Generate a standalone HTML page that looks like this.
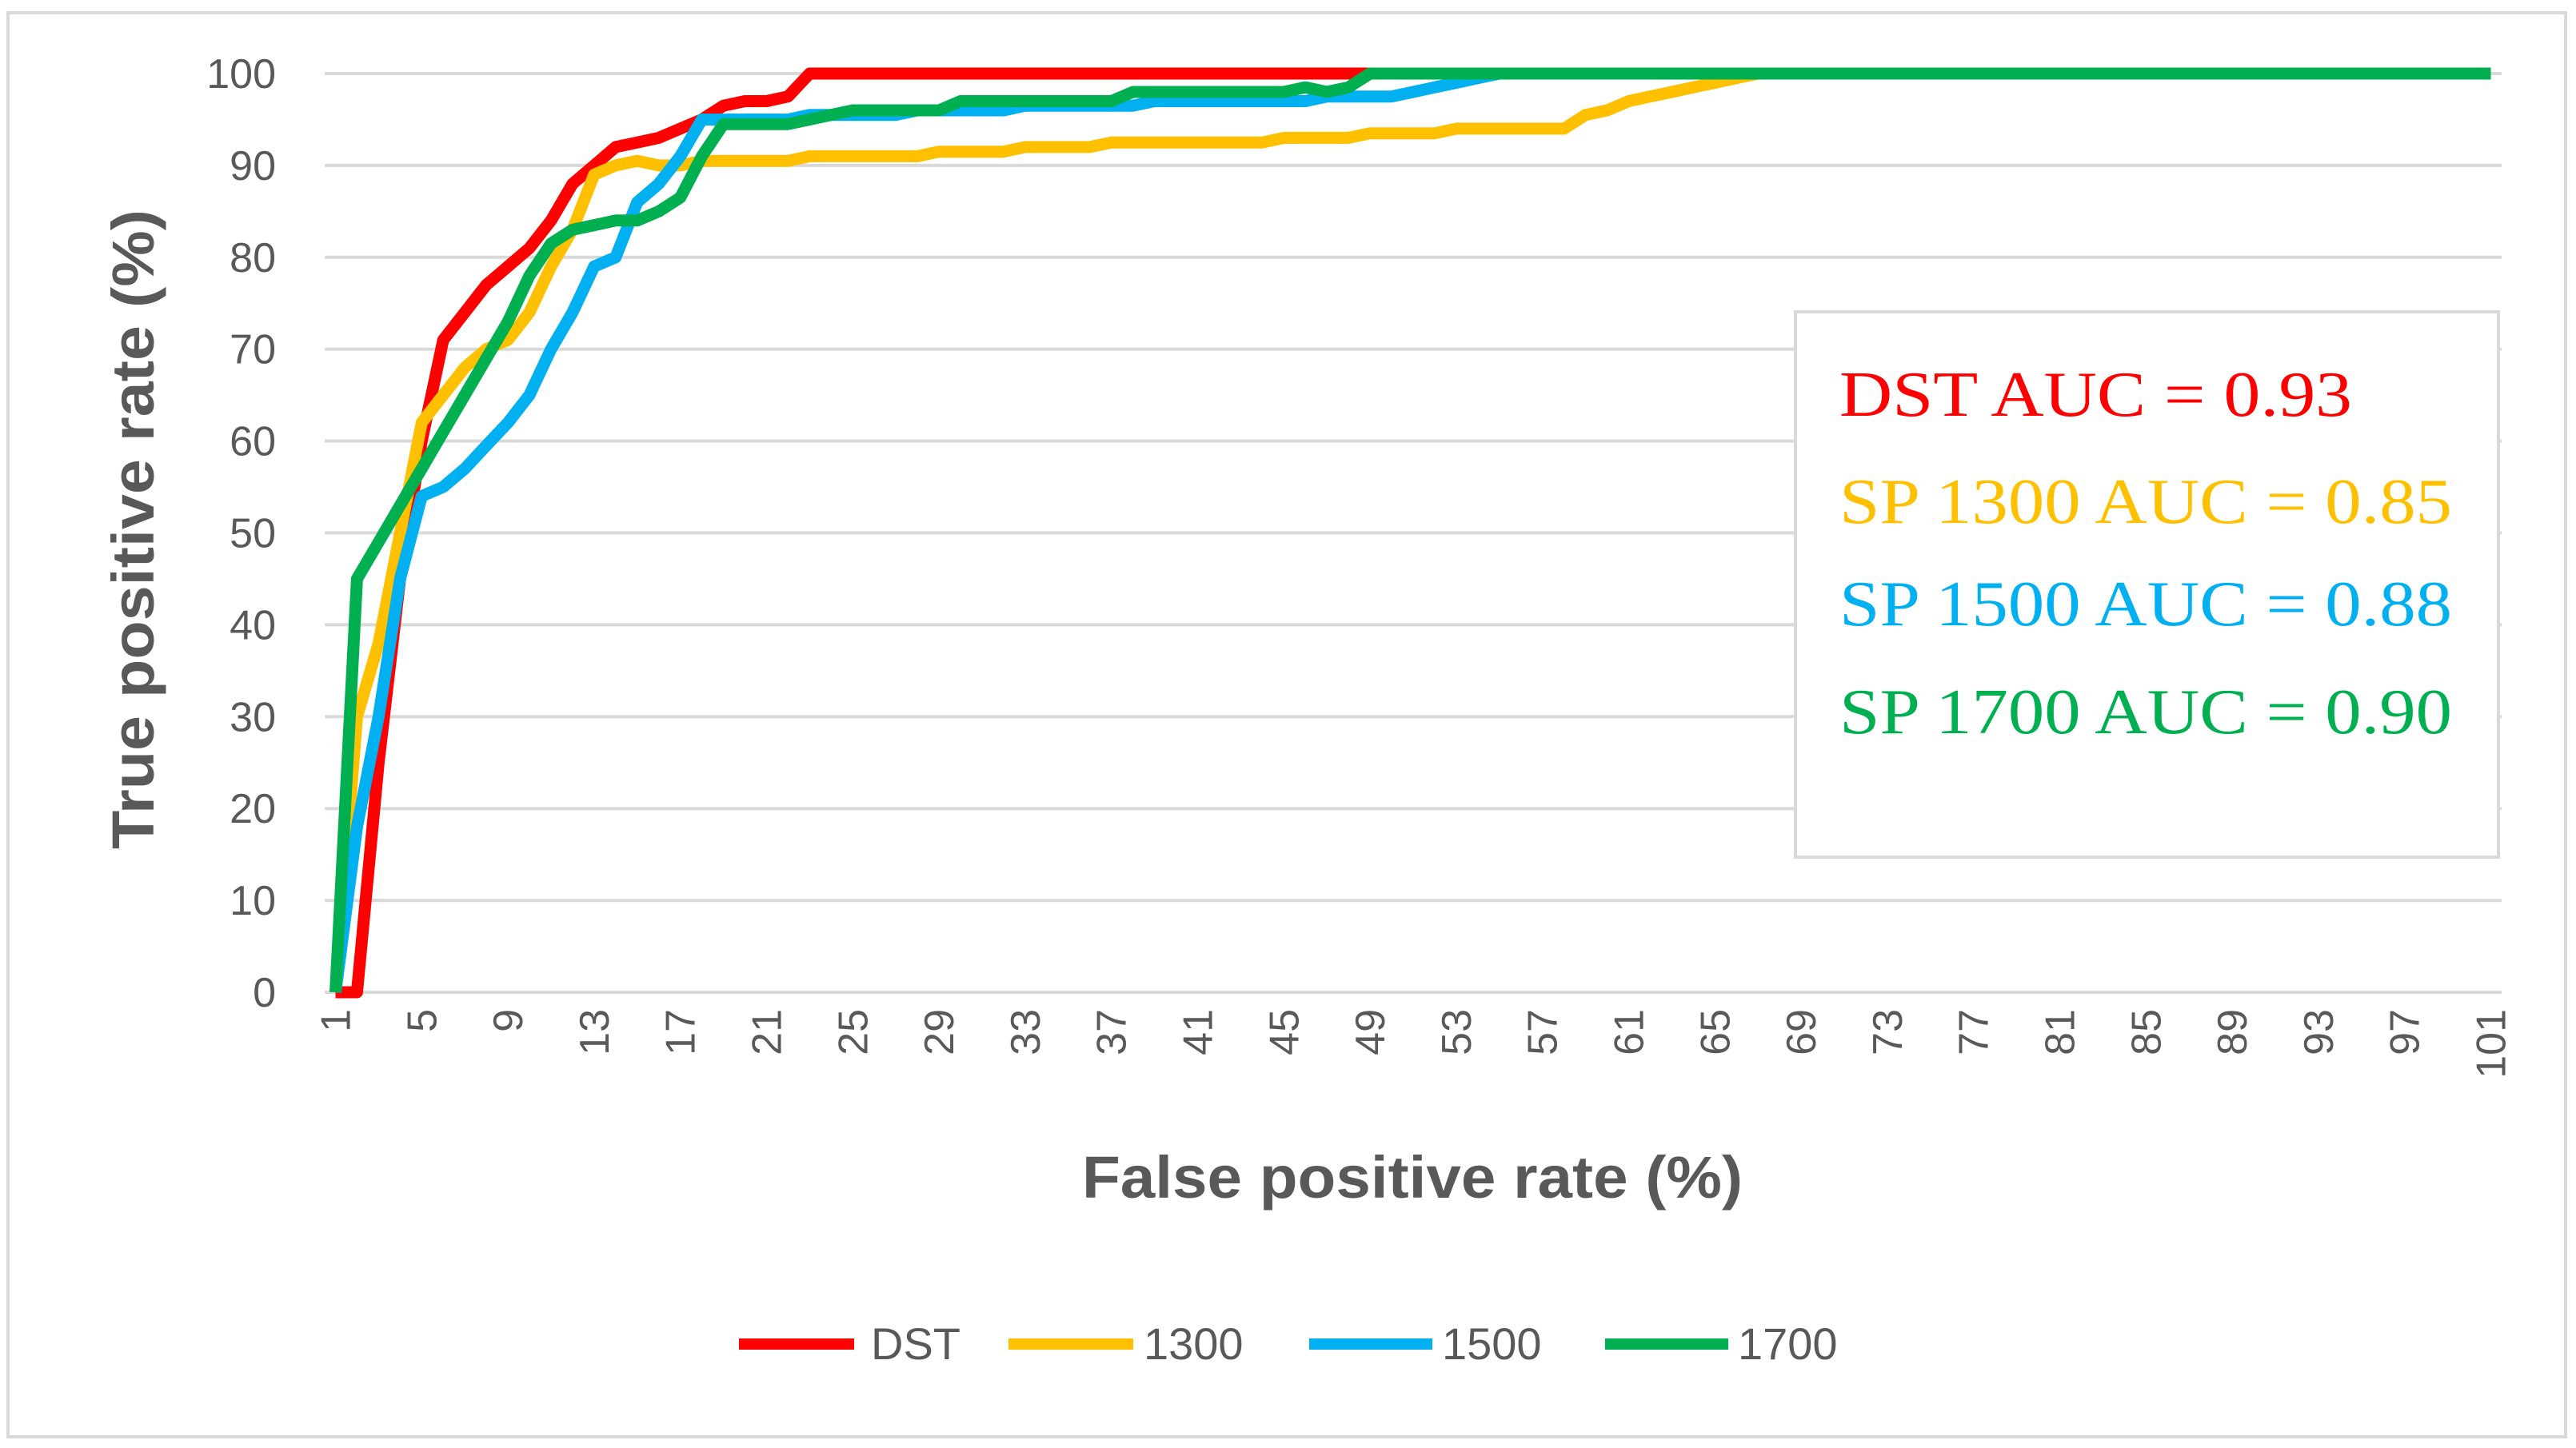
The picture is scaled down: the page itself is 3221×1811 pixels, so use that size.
<!DOCTYPE html>
<html><head><meta charset="utf-8"><style>
html,body{margin:0;padding:0;background:#fff;}
svg{display:block;}
</style></head><body>
<svg id="chart" width="3221" height="1811" viewBox="0 0 3221 1811" xmlns="http://www.w3.org/2000/svg">
<rect x="10" y="16" width="3198" height="1781" fill="#fff" stroke="#d9d9d9" stroke-width="4"/>
<g id="grid"></g>
<g id="yticks"></g>
<g id="xticks"></g>
<g id="series"></g>
<text x="192" y="662" transform="rotate(-90 192 662)" text-anchor="middle" font-family="Liberation Sans, sans-serif" font-weight="bold" font-size="74" textLength="800" lengthAdjust="spacingAndGlyphs" fill="#595959">True positive rate (%)</text>
<text x="1766" y="1498" text-anchor="middle" font-family="Liberation Sans, sans-serif" font-weight="bold" font-size="74" textLength="826" lengthAdjust="spacingAndGlyphs" fill="#595959">False positive rate (%)</text>
<g>
<rect x="2245" y="390" width="879" height="682" fill="#fff" stroke="#d9d9d9" stroke-width="4"/>
<text x="2300" y="520" font-family="Liberation Serif, serif" font-size="80" textLength="641" lengthAdjust="spacingAndGlyphs" fill="#ff0000">DST AUC = 0.93</text>
<text x="2300" y="654" font-family="Liberation Serif, serif" font-size="80" textLength="766" lengthAdjust="spacingAndGlyphs" fill="#ffc000">SP 1300 AUC = 0.85</text>
<text x="2300" y="782" font-family="Liberation Serif, serif" font-size="80" textLength="766" lengthAdjust="spacingAndGlyphs" fill="#00b0f0">SP 1500 AUC = 0.88</text>
<text x="2300" y="917" font-family="Liberation Serif, serif" font-size="80" textLength="766" lengthAdjust="spacingAndGlyphs" fill="#00b050">SP 1700 AUC = 0.90</text>
</g>
<g>
<g><line x1="924" y1="1681" x2="1068" y2="1681" stroke="#ff0000" stroke-width="14"/><text x="1089" y="1700" font-family="Liberation Sans, sans-serif" font-size="56" fill="#595959">DST</text></g>
<g><line x1="1261" y1="1681" x2="1417" y2="1681" stroke="#ffc000" stroke-width="14"/><text x="1430" y="1700" font-family="Liberation Sans, sans-serif" font-size="56" fill="#595959">1300</text></g>
<g><line x1="1637" y1="1681" x2="1791" y2="1681" stroke="#00b0f0" stroke-width="14"/><text x="1803" y="1700" font-family="Liberation Sans, sans-serif" font-size="56" fill="#595959">1500</text></g>
<g><line x1="2007" y1="1681" x2="2161" y2="1681" stroke="#00b050" stroke-width="14"/><text x="2173" y="1700" font-family="Liberation Sans, sans-serif" font-size="56" fill="#595959">1700</text></g>
</g>
</svg>
<script>
const yTicks = [0,10,20,30,40,50,60,70,80,90,100];
const xTickLabels = [1,5,9,13,17,21,25,29,33,37,41,45,49,53,57,61,65,69,73,77,81,85,89,93,97,101];
const dst = [0,0,25,45,60,71,74,77,79,81,84,88,90,92,92.5,93,94,95,96.5,97,97,97.5,100,100,100,100,100,100,100,100,100,100,100,100,100,100,100,100,100,100,100,100,100,100,100,100,100,100,100,100,100,100,100,100,100,100,100,100,100,100,100,100,100,100,100,100,100,100,100,100,100,100,100,100,100,100,100,100,100,100,100,100,100,100,100,100,100,100,100,100,100,100,100,100,100,100,100,100,100,100,100];
const sp1300 = [0,30,38,50,62,65,68,70,71,74,79,83,89,90,90.5,90,90,90.5,90.5,90.5,90.5,90.5,91,91,91,91,91,91,91.5,91.5,91.5,91.5,92,92,92,92,92.5,92.5,92.5,92.5,92.5,92.5,92.5,92.5,93,93,93,93,93.5,93.5,93.5,93.5,94,94,94,94,94,94,95.5,96,97,97.5,98,98.5,99,99.5,100,100,100,100,100,100,100,100,100,100,100,100,100,100,100,100,100,100,100,100,100,100,100,100,100,100,100,100,100,100,100,100,100,100,100];
const sp1500 = [0,18,30,45,54,55,57,59.5,62,65,70,74,79,80,86,88,91,95,95,95,95,95,95.5,95.5,95.5,95.5,95.5,96,96,96,96,96,96.5,96.5,96.5,96.5,96.5,96.5,97,97,97,97,97,97,97,97,97.5,97.5,97.5,97.5,98,98.5,99,99.5,100,100,100,100,100,100,100,100,100,100,100,100,100,100,100,100,100,100,100,100,100,100,100,100,100,100,100,100,100,100,100,100,100,100,100,100,100,100,100,100,100,100,100,100,100,100,100];
const sp1700 = [0,45,49,53,57,61,65,69,73,78,81.5,83,83.5,84,84,85,86.5,91,94.5,94.5,94.5,94.5,95,95.5,96,96,96,96,96,97,97,97,97,97,97,97,97,98,98,98,98,98,98,98,98,98.5,98,98.5,100,100,100,100,100,100,100,100,100,100,100,100,100,100,100,100,100,100,100,100,100,100,100,100,100,100,100,100,100,100,100,100,100,100,100,100,100,100,100,100,100,100,100,100,100,100,100,100,100,100,100,100,100];
const seriesNames = ['dst','1300','1500','1700'];
const seriesColors = ['#ff0000','#ffc000','#00b0f0','#00b050'];
const seriesData = [dst, sp1300, sp1500, sp1700];

const NS = 'http://www.w3.org/2000/svg';
const plotL = 406, plotR = 3128, plotT = 92, plotB = 1241;
const nCat = 101;
const step = (plotR - plotL) / nCat;
function xPos(i){ return plotL + step * (i - 0.5); }
function yPos(v){ return plotB - (v / 100) * (plotB - plotT); }

const grid = document.getElementById('grid');
const yt = document.getElementById('yticks');
yTicks.forEach(v => {
  const l = document.createElementNS(NS,'line');
  l.setAttribute('x1', plotL); l.setAttribute('x2', plotR);
  l.setAttribute('y1', yPos(v)); l.setAttribute('y2', yPos(v));
  l.setAttribute('stroke', '#d9d9d9'); l.setAttribute('stroke-width', '4');
  
  
  grid.appendChild(l);
  const t = document.createElementNS(NS,'text');
  t.setAttribute('x', 345); t.setAttribute('y', yPos(v) + 18);
  t.setAttribute('text-anchor', 'end');
  t.setAttribute('font-family', 'Liberation Sans, sans-serif');
  t.setAttribute('font-size', '52'); t.setAttribute('fill', '#595959');
  t.textContent = v;
  
  
  yt.appendChild(t);
});
const xt = document.getElementById('xticks');
xTickLabels.forEach(c => {
  const x = xPos(c) + 18, y = 1262;
  const t = document.createElementNS(NS,'text');
  t.setAttribute('x', x); t.setAttribute('y', y);
  t.setAttribute('transform', 'rotate(-90 ' + x + ' ' + y + ')');
  t.setAttribute('text-anchor', 'end');
  t.setAttribute('font-family', 'Liberation Sans, sans-serif');
  t.setAttribute('font-size', '52'); t.setAttribute('fill', '#595959');
  t.textContent = c;
  
  
  xt.appendChild(t);
});
const sg = document.getElementById('series');
seriesData.forEach((arr, k) => {
  const pts = arr.map((v, i) => xPos(i + 1).toFixed(1) + ',' + yPos(v).toFixed(1)).join(' ');
  const p = document.createElementNS(NS,'polyline');
  p.setAttribute('points', pts);
  p.setAttribute('fill', 'none');
  p.setAttribute('stroke', seriesColors[k]);
  p.setAttribute('stroke-width', '15');
  p.setAttribute('stroke-linejoin', 'round');
  
  
  sg.appendChild(p);
});
</script>
</body></html>
